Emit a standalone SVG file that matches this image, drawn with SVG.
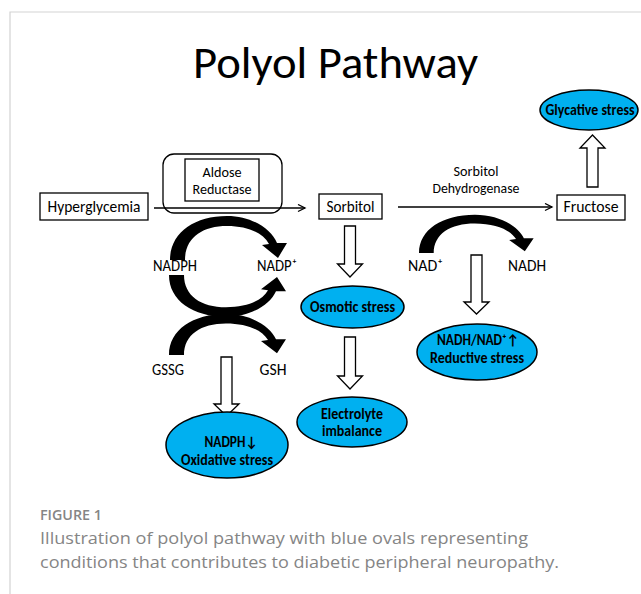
<svg xmlns="http://www.w3.org/2000/svg" width="641" height="594" viewBox="0 0 641 594">
<style>
  .t { font-family: Carlito, Lato, "Liberation Sans", sans-serif; fill: #000; text-anchor: middle; }
  .lbl { font-size: 16.5px; }
  .enz { font-size: 14.5px; }
  .ov { font-size: 15px; font-weight: bold; }
  .box { fill: #fff; stroke: #000; stroke-width: 1.3; }
  .oval { fill: #00b0f0; stroke: #000; stroke-width: 1.5; }
  .hollow { fill: #fff; stroke: #000; stroke-width: 1.3; stroke-linejoin: miter; }
  .line { fill: none; stroke: #000; stroke-width: 1.3; }
  .curve { fill: #000; }
  .cap { font-family: "Open Sans", "Liberation Sans", sans-serif; fill: #858585; }
</style>
<defs>
  <marker id="open" markerWidth="10" markerHeight="10" refX="8" refY="4" orient="auto" markerUnits="userSpaceOnUse">
    <path d="M1,0.5 L8,4 L1,7.5" fill="none" stroke="#000" stroke-width="1.3"/>
  </marker>
  <path id="curvedArrow" d="M0,0 C0,-27 24,-44 57,-44 C82,-44 101,-31 107,-17 L117,-17 L108,-2 L92,-15 L99,-16 C93,-27 78,-34 57,-34 C32,-34 15,-22 15,0 Z"/>
</defs>

<rect width="641" height="594" fill="#fff"/>
<path d="M10,594 L10,12 L641,12" fill="none" stroke="#d3d3d3" stroke-width="1.2"/>

<text class="t" x="335.5" y="78" font-size="46" textLength="285" lengthAdjust="spacingAndGlyphs">Polyol Pathway</text>

<g id="connectors">
  <line class="line" x1="154" y1="208" x2="305" y2="208" marker-end="url(#open)"/>
  <line class="line" x1="398" y1="207" x2="552" y2="207" marker-end="url(#open)"/>
  <use href="#curvedArrow" class="curve" transform="translate(170,260)"/>
  <use href="#curvedArrow" class="curve" transform="translate(169,275) scale(1,-0.95)"/>
  <use href="#curvedArrow" class="curve" transform="translate(169,355) scale(1,0.93)"/>
  <use href="#curvedArrow" class="curve" transform="translate(419,253) scale(0.98,0.87)"/>
  <polygon class="hollow" points="221,357 232,357 232,404 239,404 226.5,416 214,404 221,404"/>
  <polygon class="hollow" points="344.5,226 355.5,226 355.5,264 362.5,264 350,277 337.5,264 344.5,264"/>
  <polygon class="hollow" points="344.5,337 355.5,337 355.5,376 362.5,376 350,389 337.5,376 344.5,376"/>
  <polygon class="hollow" points="471,255 482,255 482,302 489,302 476.5,314 464,302 471,302"/>
  <polygon class="hollow" points="587,187 598,187 598,148 605,148 592.5,135 580,148 587,148"/>
</g>

<g id="hyperglycemia">
  <rect class="box" x="40" y="193" width="108" height="27"/>
  <text class="t lbl" x="94" y="212" textLength="93" lengthAdjust="spacingAndGlyphs">Hyperglycemia</text>
</g>

<g id="aldose-reductase">
  <rect x="163" y="154" width="119" height="59" rx="11" fill="none" stroke="#000" stroke-width="1.3"/>
  <rect class="box" x="185" y="159" width="74" height="42"/>
  <text class="t enz" x="222" y="177" textLength="39" lengthAdjust="spacingAndGlyphs">Aldose</text>
  <text class="t enz" x="222" y="194" textLength="59" lengthAdjust="spacingAndGlyphs">Reductase</text>
</g>

<g id="sorbitol">
  <rect class="box" x="319" y="194" width="63" height="25"/>
  <text class="t lbl" x="350.5" y="212" textLength="48" lengthAdjust="spacingAndGlyphs">Sorbitol</text>
</g>

<g id="sorbitol-dehydrogenase">
  <text class="t enz" x="476" y="176" textLength="45" lengthAdjust="spacingAndGlyphs">Sorbitol</text>
  <text class="t enz" x="476" y="193" textLength="87" lengthAdjust="spacingAndGlyphs">Dehydrogenase</text>
</g>

<g id="fructose">
  <rect class="box" x="557" y="195" width="68" height="25"/>
  <text class="t lbl" x="591" y="212" textLength="55" lengthAdjust="spacingAndGlyphs">Fructose</text>
</g>

<g id="nadph">
  <text class="t lbl" x="175" y="271" textLength="44" lengthAdjust="spacingAndGlyphs">NADPH</text>
</g>
<g id="nadp">
  <text class="t lbl" x="277" y="271" textLength="40" lengthAdjust="spacingAndGlyphs">NADP⁺</text>
</g>
<g id="gssg">
  <text class="t lbl" x="168" y="375" textLength="32" lengthAdjust="spacingAndGlyphs">GSSG</text>
</g>
<g id="gsh">
  <text class="t lbl" x="273" y="375" textLength="27" lengthAdjust="spacingAndGlyphs">GSH</text>
</g>
<g id="nad">
  <text class="t lbl" x="425.5" y="271" textLength="35" lengthAdjust="spacingAndGlyphs">NAD⁺</text>
</g>
<g id="nadh">
  <text class="t lbl" x="527" y="271" textLength="38" lengthAdjust="spacingAndGlyphs">NADH</text>
</g>

<g id="glycative-stress">
  <ellipse class="oval" cx="589" cy="110" rx="49" ry="20"/>
  <text class="t ov" x="590" y="115" textLength="89" lengthAdjust="spacingAndGlyphs">Glycative stress</text>
</g>

<g id="osmotic-stress">
  <ellipse class="oval" cx="352.5" cy="307" rx="51.5" ry="21"/>
  <text class="t ov" x="352.5" y="312" textLength="85" lengthAdjust="spacingAndGlyphs">Osmotic stress</text>
</g>

<g id="electrolyte-imbalance">
  <ellipse class="oval" cx="352" cy="422" rx="55" ry="25"/>
  <text class="t ov" x="352" y="419" textLength="62" lengthAdjust="spacingAndGlyphs">Electrolyte</text>
  <text class="t ov" x="352" y="436" textLength="60" lengthAdjust="spacingAndGlyphs">imbalance</text>
</g>

<g id="reductive-stress">
  <ellipse class="oval" cx="477" cy="352" rx="60" ry="28"/>
  <text class="t ov" x="478" y="345" textLength="82" lengthAdjust="spacingAndGlyphs">NADH/NAD⁺↑</text>
  <text class="t ov" x="477" y="363" textLength="94" lengthAdjust="spacingAndGlyphs">Reductive stress</text>
</g>

<g id="oxidative-stress">
  <ellipse class="oval" cx="227" cy="445" rx="61" ry="33"/>
  <text class="t ov" x="231" y="447" textLength="53" lengthAdjust="spacingAndGlyphs">NADPH↓</text>
  <text class="t ov" x="227" y="465" textLength="92" lengthAdjust="spacingAndGlyphs">Oxidative stress</text>
</g>

<text class="cap" x="40" y="520" font-size="14" font-weight="600" textLength="62" lengthAdjust="spacingAndGlyphs">FIGURE 1</text>
<text class="cap" x="40" y="544" font-size="17" textLength="488" lengthAdjust="spacingAndGlyphs">Illustration of polyol pathway with blue ovals representing</text>
<text class="cap" x="40" y="568" font-size="17" textLength="519" lengthAdjust="spacingAndGlyphs">conditions that contributes to diabetic peripheral neuropathy.</text>
</svg>
